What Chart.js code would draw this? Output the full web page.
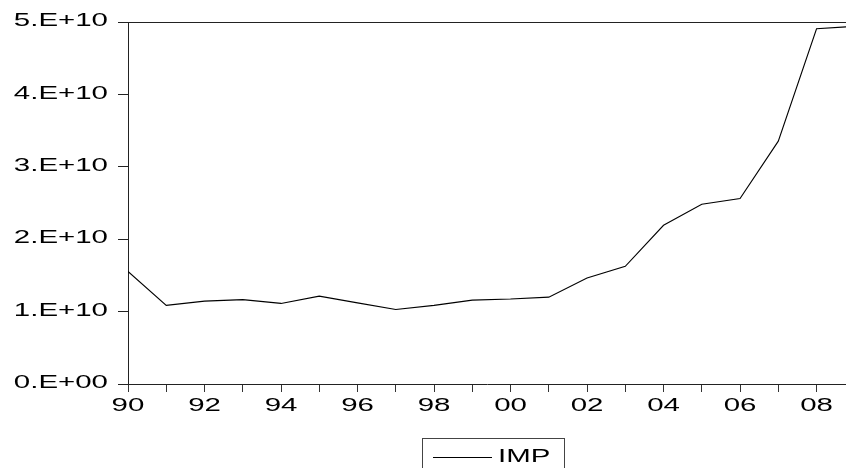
<!DOCTYPE html>
<html>
<head>
<meta charset="utf-8">
<script src="https://cdn.jsdelivr.net/npm/chart.js@4.4.1/dist/chart.umd.min.js"></script>
<style>
  html, body { margin: 0; padding: 0; background: #fff; }
  #wrap { width: 846px; height: 468px; position: relative; }
</style>
</head>
<body>
<div id="wrap"><canvas id="impChart"></canvas></div>
<script>
// Datos de la serie IMP (anual)
const years = [1990, 1991, 1992, 1993, 1994, 1995, 1996, 1997, 1998, 1999,
               2000, 2001, 2002, 2003, 2004, 2005, 2006, 2007, 2008, 2009];
const imp = [1.555e10, 1.086e10, 1.145e10, 1.165e10, 1.113e10, 1.214e10, 1.12e10, 1.03e10, 1.086e10, 1.159e10,
             1.173e10, 1.20e10, 1.463e10, 1.625e10, 2.192e10, 2.483e10, 2.561e10, 3.354e10, 4.907e10, 4.94e10];

// Etiquetas de los ejes
const yTickValues = [0, 1e10, 2e10, 3e10, 4e10, 5e10];
const yTickLabels = ['0.E+00', '1.E+10', '2.E+10', '3.E+10', '4.E+10', '5.E+10'];
const xTickValues = [1990, 1992, 1994, 1996, 1998, 2000, 2002, 2004, 2006, 2008];
const xTickLabels = ['90', '92', '94', '96', '98', '00', '02', '04', '06', '08'];
const seriesName = 'IMP';

const FONT = '19px "Liberation Sans", Arial, sans-serif';
const STRETCH = 1.55; // el texto original aparece ensanchado

function stretchedText(ctx, txt, x, y, align, baseline) {
    ctx.save();
    ctx.translate(x, y);
    ctx.scale(STRETCH, 1);
    ctx.font = FONT;
    ctx.fillStyle = '#000';
    ctx.textAlign = align;
    ctx.textBaseline = baseline;
    ctx.fillText(txt, 0, 0);
    ctx.restore();
}

// Plugin: marco superior, etiquetas y leyenda estilo EViews
const eviewsPlugin = {
    id: 'eviews',
    afterDraw(chart) {
        const ctx = chart.ctx;
        const area = chart.chartArea;
        const xs = chart.scales.x, ys = chart.scales.y;

        ctx.save();
        ctx.strokeStyle = '#222';
        ctx.lineWidth = 1;
        ctx.beginPath();
        ctx.moveTo(area.left, Math.round(area.top) + 0.5);
        ctx.lineTo(area.right, Math.round(area.top) + 0.5);
        ctx.stroke();
        ctx.restore();

        yTickValues.forEach((v, i) => {
            stretchedText(ctx, yTickLabels[i], area.left - 20, ys.getPixelForValue(v) - 1, 'right', 'middle');
        });
        xTickValues.forEach((v, i) => {
            stretchedText(ctx, xTickLabels[i], xs.getPixelForValue(v), area.bottom + 22, 'center', 'middle');
        });

        // Leyenda
        ctx.save();
        ctx.strokeStyle = '#444';
        ctx.lineWidth = 1;
        ctx.strokeRect(422.5, 438.5, 142, 40);
        ctx.strokeStyle = '#000';
        ctx.beginPath();
        ctx.moveTo(433, 457.5);
        ctx.lineTo(492, 457.5);
        ctx.stroke();
        ctx.restore();
        stretchedText(ctx, seriesName, 498, 462, 'left', 'alphabetic');
    }
};

new Chart(document.getElementById('impChart'), {
    type: 'line',
    data: {
        datasets: [{
            label: seriesName,
            data: years.map((y, i) => ({ x: y, y: imp[i] })),
            borderColor: '#000',
            borderWidth: 1.1,
            pointRadius: 0,
            tension: 0,
            fill: false
        }]
    },
    options: {
        responsive: true,
        maintainAspectRatio: false,
        animation: false,
        layout: { padding: { top: 22, right: 0, left: 0, bottom: 0 } },
        plugins: { legend: { display: false }, tooltip: { enabled: false } },
        scales: {
            x: {
                type: 'linear',
                min: 1990,
                max: 2008.77,
                afterFit(scale) { scale.height = 84; },
                afterBuildTicks(scale) {
                    scale.ticks = years.filter(y => y <= 2008).map(y => ({ value: y }));
                },
                ticks: { display: false, autoSkip: false },
                grid: { drawOnChartArea: false, drawTicks: true, tickLength: 8, color: '#333', lineWidth: 1 },
                border: { display: true, color: '#222', width: 1 }
            },
            y: {
                min: 0,
                max: 5e10,
                afterFit(scale) { scale.width = 128; },
                afterBuildTicks(scale) {
                    scale.ticks = yTickValues.map(v => ({ value: v }));
                },
                ticks: { display: false },
                grid: { drawOnChartArea: false, drawTicks: true, tickLength: 10, color: '#222', lineWidth: 1 },
                border: { display: true, color: '#222', width: 1 }
            }
        }
    },
    plugins: [eviewsPlugin]
});
</script>
</body>
</html>
